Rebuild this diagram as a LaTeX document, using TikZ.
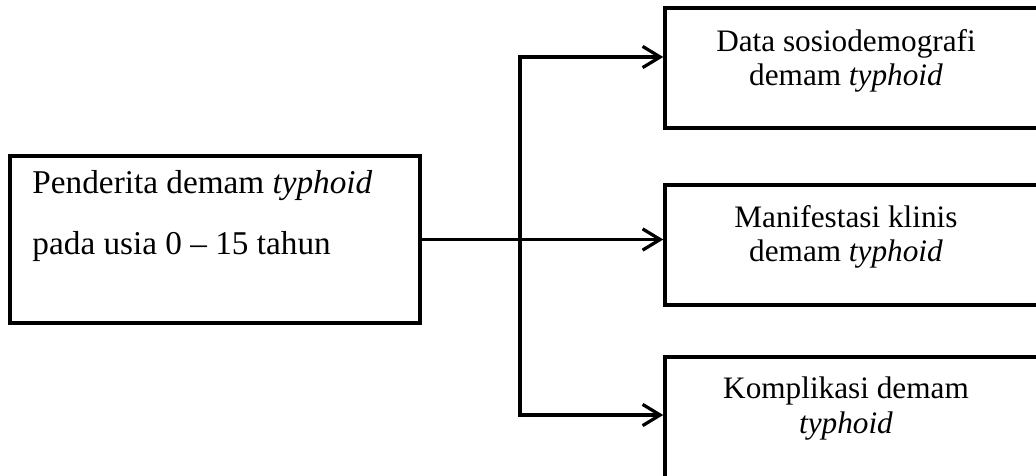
\documentclass[tikz,border=0pt]{standalone}
\usepackage{fontspec}
\setmainfont{Liberation Serif}
\usetikzlibrary{arrows.meta}

\begin{document}
\begin{tikzpicture}[x=0.4pt,y=-0.4pt,font=\fontsize{12.5}{13.8}\selectfont,
  box/.style={draw,line width=1.4pt,inner sep=0pt},
  label/.style={inner sep=0pt,align=center},
  link/.style={line width=1.3pt,-{Straight Barb[length=7pt,width=8.5pt]}},
  bus/.style={line width=1.8pt,line cap=rect}]
  \useasboundingbox (0,0) rectangle (1036,475);
  \clip (0,0) rectangle (1036,475);
  % boxes
  \node[box,minimum width=164pt,minimum height=66.8pt] (src) at (215,239.5) {};
  \node[box,minimum width=158pt,minimum height=48pt] (top) at (862.5,68) {};
  \node[box,minimum width=158pt,minimum height=48pt] (mid) at (862.5,245) {};
  \node[box,minimum width=158pt,minimum height=57.2pt] (bot) at (862.5,428.5) {};
  % texts
  \node[label,anchor=north west,align=left,font=\fontsize{13.3}{24.4}\selectfont] (srctxt) at (32,169.5)
    {Penderita demam \textit{typhoid}\\pada usia 0 -- 15 tahun};
  \node[label,anchor=north] (toptxt) at (846,28.7) {Data sosiodemografi\\demam \textit{typhoid}};
  \node[label,anchor=north] (midtxt) at (846,204.7) {Manifestasi klinis\\demam \textit{typhoid}};
  \node[label,anchor=north] (bottxt) at (846,376.7) {Komplikasi demam\\\textit{typhoid}};
  % connectors
  \coordinate (bt) at (520,57);
  \coordinate (bb) at (520,415);
  \draw[bus] (bt) -- (bb);
  \draw[link] (bt) -- (bt -| top.west);
  \draw[link] (src.east) -- (src.east -| mid.west);
  \draw[link] (bb) -- (bb -| bot.west);
\end{tikzpicture}
\end{document}
